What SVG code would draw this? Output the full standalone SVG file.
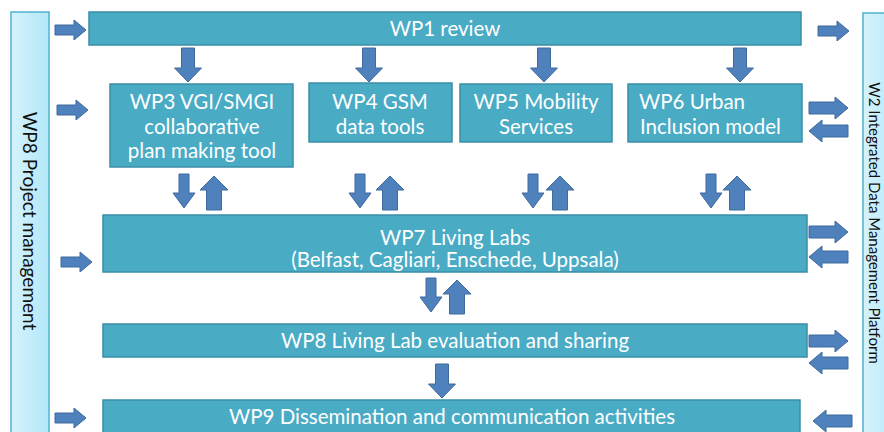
<svg xmlns="http://www.w3.org/2000/svg" xmlns:xlink="http://www.w3.org/1999/xlink" width="884" height="432" viewBox="0 0 884 432">
<style>
.box{fill:#4aabc5;stroke:#3a8ea6;stroke-width:1.5}
.bar{fill:url(#barG);stroke:#4fb3cf;stroke-width:1.5}
.wt{fill:#ffffff;font-family:Lato,"Liberation Sans",sans-serif;font-size:20.5px}
.bt{fill:#111111;font-family:Lato,"Liberation Sans",sans-serif}
.arr{fill:#4f81bd;stroke:#3f6a9e;stroke-width:1}
</style>
<defs>
<linearGradient id="barG" x1="0" y1="0" x2="1" y2="0">
<stop offset="0" stop-color="#d6f3fc"/>
<stop offset="0.5" stop-color="#c3edfb"/>
<stop offset="1" stop-color="#b3e7f8"/>
</linearGradient>
<path id="rS" d="M0,-5 H19 V-10 L31,0 L19,10 V5 H0 Z"/>
<path id="rL" d="M0,-6 H26 V-11 L39,0 L26,11 V6 H0 Z"/>
<path id="lL" d="M39,-6 H13 V-11 L0,0 L13,11 V6 H39 Z"/>
<path id="dB" d="M-6.5,0 V20 H-13.5 L0,34 L13.5,20 H6.5 V0 Z"/>
<path id="dS" d="M-5,0 V19 H-11 L0,34 L11,19 H5 V0 Z"/>
<path id="uS" d="M-7.5,34 V14 H-14 L0,0 L14,14 H7.5 V34 Z"/>
</defs>

<g id="wp8-pm">
<rect class="bar" x="11" y="12" width="38" height="440"/>
<text class="bt" font-size="19" text-anchor="middle" transform="translate(23,221) rotate(90)">WP8 Project management</text>
</g>
<g id="w2-platform">
<rect class="bar" x="863" y="13" width="40" height="440"/>
<text class="bt" font-size="15" text-anchor="middle" transform="translate(869,223) rotate(90)">W2 Integrated Data Management Platform</text>
</g>

<g id="wp1">
<rect class="box" x="89" y="12" width="712" height="33"/>
<text class="wt" x="445" y="36" text-anchor="middle">WP1 review</text>
</g>
<g id="wp3">
<rect class="box" x="110" y="84" width="183" height="83"/>
<text class="wt" x="202" y="109" text-anchor="middle">WP3 VGI/SMGI</text>
<text class="wt" x="202" y="134" text-anchor="middle">collaborative</text>
<text class="wt" x="202" y="158" text-anchor="middle">plan making tool</text>
</g>
<g id="wp4">
<rect class="box" x="309" y="83" width="143" height="59"/>
<text class="wt" x="380" y="109" text-anchor="middle">WP4 GSM</text>
<text class="wt" x="380" y="134" text-anchor="middle">data tools</text>
</g>
<g id="wp5">
<rect class="box" x="460" y="84" width="152" height="58"/>
<text class="wt" x="536" y="109" text-anchor="middle">WP5 Mobility</text>
<text class="wt" x="536" y="134" text-anchor="middle">Services</text>
</g>
<g id="wp6">
<rect class="box" x="628" y="84" width="174" height="58"/>
<text class="wt" x="639" y="109">WP6 Urban</text>
<text class="wt" x="640" y="134">Inclusion model</text>
</g>
<g id="wp7">
<rect class="box" x="103" y="215" width="704" height="57"/>
<text class="wt" x="455" y="245" text-anchor="middle">WP7 Living Labs</text>
<text class="wt" x="455" y="267" text-anchor="middle">(Belfast, Cagliari, Enschede, Uppsala)</text>
</g>
<g id="wp8-eval">
<rect class="box" x="103" y="324" width="704" height="33"/>
<text class="wt" x="455" y="348" text-anchor="middle">WP8 Living Lab evaluation and sharing</text>
</g>
<g id="wp9">
<rect class="box" x="103" y="400" width="697" height="45"/>
<text class="wt" x="452" y="424" text-anchor="middle">WP9 Dissemination and communication activities</text>
</g>

<g id="connectors" class="arr">
<use xlink:href="#rS" x="55" y="30"/>
<use xlink:href="#rS" x="57" y="110"/>
<use xlink:href="#rS" x="61" y="262"/>
<use xlink:href="#rS" x="55" y="418"/>
<use xlink:href="#rS" x="818" y="31"/>

<use xlink:href="#dB" x="188" y="48"/>
<use xlink:href="#dB" x="369" y="48"/>
<use xlink:href="#dB" x="544" y="48"/>
<use xlink:href="#dB" x="740" y="48"/>

<use xlink:href="#rL" x="809" y="108"/>
<use xlink:href="#lL" x="809" y="131"/>
<use xlink:href="#rL" x="809" y="232"/>
<use xlink:href="#lL" x="809" y="257"/>
<use xlink:href="#rL" x="809" y="341"/>
<use xlink:href="#lL" x="809" y="363"/>
<use xlink:href="#lL" x="813" y="421"/>

<use xlink:href="#dS" x="184" y="174"/>
<use xlink:href="#uS" x="214" y="176"/>
<use xlink:href="#dS" x="360" y="174"/>
<use xlink:href="#uS" x="390" y="176"/>
<use xlink:href="#dS" x="533" y="174"/>
<use xlink:href="#uS" x="560" y="176"/>
<use xlink:href="#dS" x="711" y="174"/>
<use xlink:href="#uS" x="737" y="176"/>
<use xlink:href="#dS" x="431" y="278"/>
<use xlink:href="#uS" x="457" y="280"/>

<use xlink:href="#dB" x="442" y="364"/>
</g>
</svg>
